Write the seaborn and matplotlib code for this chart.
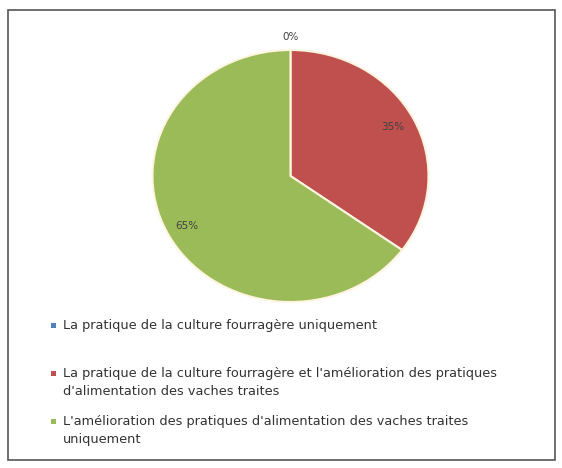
import matplotlib
matplotlib.use("Agg")
import matplotlib.pyplot as plt
import seaborn as sns
from matplotlib.patches import Rectangle

categories = [
    "La pratique de la culture fourragère uniquement",
    "La pratique de la culture fourragère et l'amélioration des pratiques\nd'alimentation des vaches traites",
    "L'amélioration des pratiques d'alimentation des vaches traites\nuniquement",
]
values = [0, 35, 65]
pct_labels = ["0%", "35%", "65%"]
colors = ["#4F81BD", "#C0504D", "#9BBB59"]

sns.set_theme(style="white")
plt.rcParams["font.family"] = ["DejaVu Sans"]

W, H = 562, 468
fig = plt.figure(figsize=(W / 100, H / 100), dpi=100)
fig.patch.set_facecolor("white")

# chart frame
fig.patches.append(Rectangle((8 / W, 1 - 460 / H), 547 / W, 450 / H,
                             transform=fig.transFigure, fill=False,
                             edgecolor="#555555", linewidth=1.2))

# pie area (slightly stretched like the original)
cx, cy, rx, ry = 290.5, 176, 138, 126
ax = fig.add_axes([(cx - rx) / W, 1 - (cy + ry) / H, 2 * rx / W, 2 * ry / H])
wedges, _ = ax.pie(values, colors=colors, startangle=90, counterclock=False,
                   wedgeprops=dict(edgecolor="#FFF5E0", linewidth=1.5),
                   labels=None)
ax.set_aspect("auto")
ax.set_xlim(-1, 1)
ax.set_ylim(-1, 1)
ax.axis("off")

# percentage labels
label_pos = [(0.0, 1.10), (0.74, 0.39), (-0.75, -0.40)]
for (x, y), t in zip(label_pos, pct_labels):
    ax.text(x, y, t, ha="center", va="center", fontsize=7.5, color="#404040")

# legend, Excel style: evenly spaced slots, marker beside the first line
for i, (lab, col) in enumerate(zip(categories, colors)):
    y = 325 + 48 * i
    fig.patches.append(Rectangle((51 / W, 1 - (y + 2.5) / H), 5 / W, 5 / H,
                                 transform=fig.transFigure, facecolor=col,
                                 edgecolor="none"))
    fig.text(63 / W, 1 - (y - 6) / H, lab, ha="left", va="top",
             fontsize=9.3, color="#333333", linespacing=1.5)

fig.savefig("out.png", dpi=100)
